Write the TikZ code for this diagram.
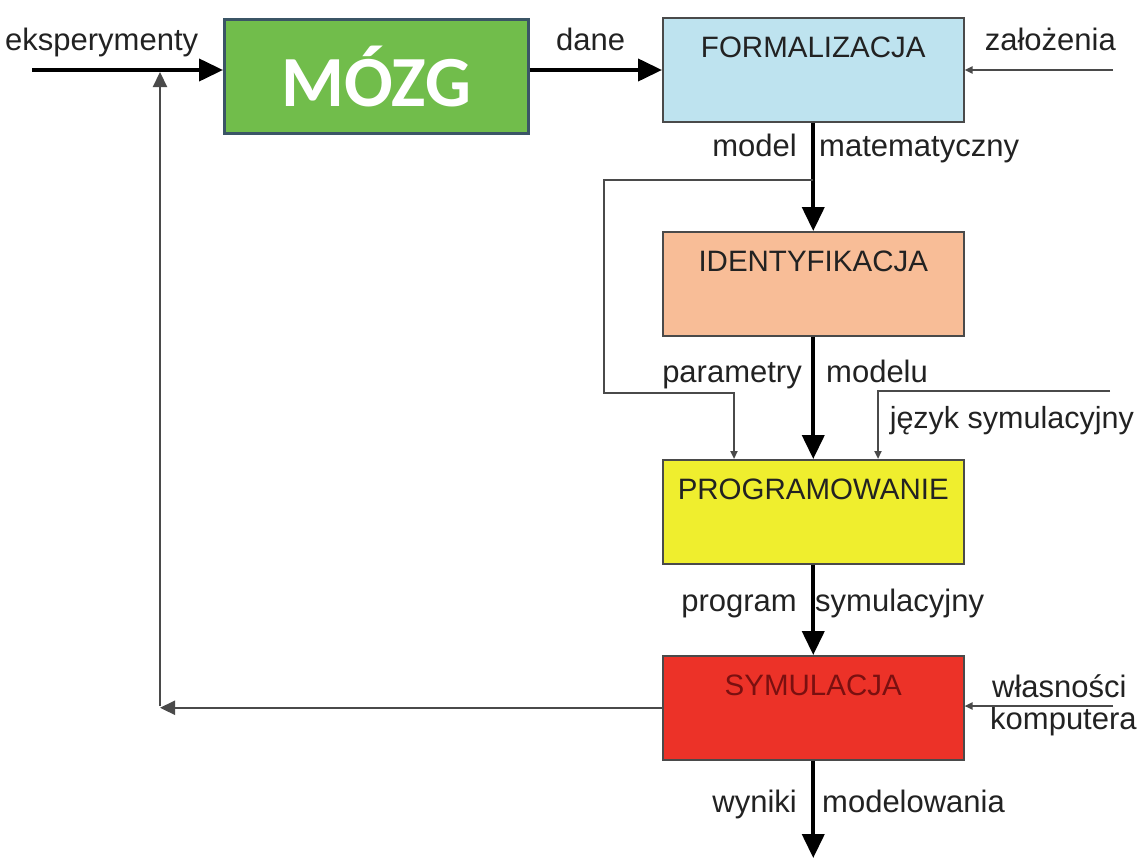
\documentclass[tikz,border=0pt]{standalone}
\usepackage{fontspec}
\setmainfont{Liberation Sans}
\newfontfamily\mozgfont{Carlito}
\usetikzlibrary{arrows.meta}
\definecolor{mozggreen}{HTML}{71BD4B}
\definecolor{mozgborder}{HTML}{3B5566}
\definecolor{formblue}{HTML}{BEE3EF}
\definecolor{idsalmon}{HTML}{F8BD97}
\definecolor{progyellow}{HTML}{EFEE2E}
\definecolor{symred}{HTML}{EC3228}
\definecolor{symtext}{HTML}{7A1010}
\definecolor{boxborder}{HTML}{4A4A4A}
\definecolor{txt}{HTML}{222222}
\definecolor{thinclr}{HTML}{4A4A4A}
\tikzset{
  box/.style={draw=boxborder, line width=1.5pt, minimum width=301pt, minimum height=104pt,
    inner sep=0pt, text height=40pt, text depth=64pt, text=txt,
    font=\fontsize{29.5}{34}\selectfont, anchor=north west},
  lbl/.style={text=txt, font=\fontsize{31}{36}\selectfont, inner sep=0pt},
  thickarrow/.style={line width=4pt, draw=black, -{Triangle[length=24pt,width=22pt]}},
  thinline/.style={line width=2.2pt, draw=thinclr},
  smallarrow/.style={thinline, -{Triangle[length=8pt,width=7pt]}},
  midarrow/.style={thinline, -{Triangle[length=15pt,width=14pt]}}
}
\begin{document}
\begin{tikzpicture}[x=1pt,y=-1pt]
\useasboundingbox[fill=white] (0,0) rectangle (1140,862);

% boxes
\node[draw=mozgborder, line width=2.5pt, fill=mozggreen, minimum width=304pt, minimum height=114pt,
      anchor=north west, text=white, inner sep=0pt,
      font=\mozgfont\bfseries\fontsize{72}{84}\selectfont] (mozg) at (223,18) {MÓZG};
\node[box, fill=formblue] (form) at (662,17) {FORMALIZACJA};
\node[box, fill=idsalmon] (iden) at (662,231) {IDENTYFIKACJA};
\node[box, fill=progyellow] (prog) at (662,459) {PROGRAMOWANIE};
\node[box, fill=symred, text=symtext] (sym) at (662,655) {SYMULACJA};

% helper coordinates
\coordinate (ekin) at (32,70);
\coordinate (row) at (0,70);
\coordinate (zin) at (1113,70);
\coordinate (b1) at (0,180);
\coordinate (bl) at (604,180);
\coordinate (bl2) at (604,393);
\coordinate (xl) at (734,0);
\coordinate (xr) at (878,0);
\coordinate (jin) at (1110,391);
\coordinate (out) at (0,858);
\coordinate (fb) at (160,706);
\coordinate (win) at (1113,706);

% labels
\node[lbl, anchor=base west] (leks) at (5,50) {eksperymenty};
\node[lbl, anchor=base west] (ldane) at (556,50) {dane};
\node[lbl, anchor=base east] (lzal) at (1116,50) {założenia};
\node[lbl, anchor=base east] (lmod) at (797,156) {model};
\node[lbl, anchor=base west] (lmat) at (819,156) {matematyczny};
\node[lbl, anchor=base east] (lpar) at (802,382) {parametry};
\node[lbl, anchor=base west] (lmodelu) at (826,382) {modelu};
\node[lbl, anchor=base east, font=\fontsize{30.5}{36}\selectfont] (ljez) at (1134,428) {język symulacyjny};
\node[lbl, anchor=base east] (lprog) at (797,611) {program};
\node[lbl, anchor=base west] (lsym) at (815,611) {symulacyjny};
\node[lbl, anchor=base west] (lwl) at (992,697) {własności};
\node[lbl, anchor=base west] (lkom) at (990,729) {komputera};
\node[lbl, anchor=base east] (lwyn) at (797,812) {wyniki};
\node[lbl, anchor=base west] (lmodel) at (822,812) {modelowania};

% thick flow
\draw[thickarrow] (ekin) -- (ekin -| mozg.west);
\draw[thickarrow] (row -| mozg.east) -- (row -| form.west);
\draw[thickarrow] (form.south) -- (iden.north);
\draw[thickarrow] (iden.south) -- (prog.north);
\draw[thickarrow] (prog.south) -- (sym.north);
\draw[thickarrow] (sym.south) -- (sym.south |- out);

% thin inputs
\draw[smallarrow] (zin) -- (zin -| form.east);
\draw[smallarrow] (form.south |- b1) -- (bl) -- (bl2) -| (prog.north -| xl);
\draw[smallarrow] (jin) -| (prog.north -| xr);
\draw[smallarrow] (win) -- (win -| sym.east);

% feedback
\draw[midarrow] (sym.west) -- (sym.west -| fb);
\draw[midarrow, shorten >=2pt] (fb) -- (fb |- ekin);
\end{tikzpicture}
\end{document}
